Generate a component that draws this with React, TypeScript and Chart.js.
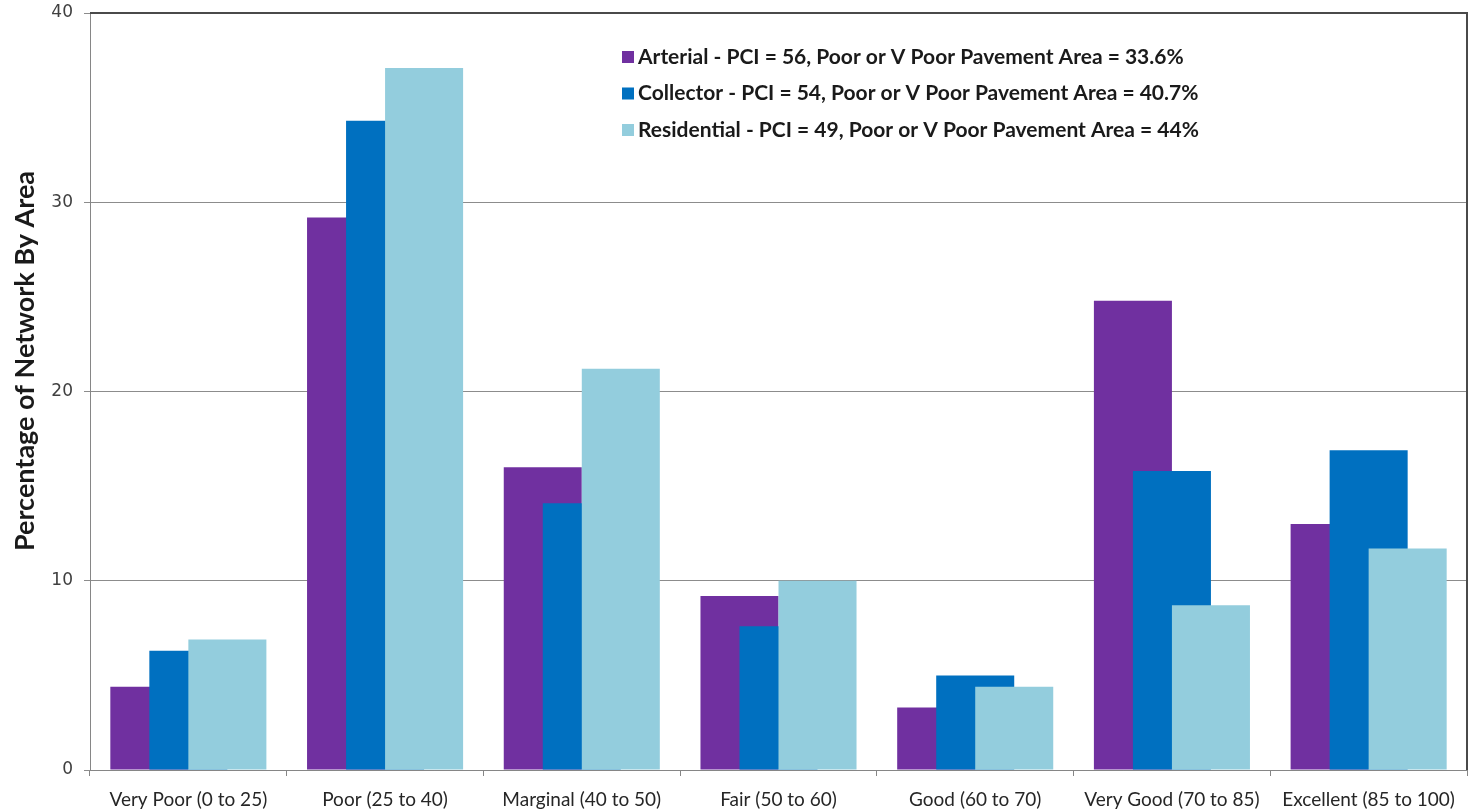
import React, { useEffect, useRef } from "react";
import { Chart, registerables } from "chart.js";

Chart.register(...registerables);

const categories = [
  "Very Poor (0 to 25)",
  "Poor (25 to 40)",
  "Marginal (40 to 50)",
  "Fair (50 to 60)",
  "Good (60 to 70)",
  "Very Good (70 to 85)",
  "Excellent (85 to 100)",
];

const seriesLabels = [
  "Arterial - PCI = 56, Poor or V Poor Pavement Area = 33.6%",
  "Collector - PCI = 54, Poor or V Poor Pavement Area = 40.7%",
  "Residential - PCI = 49, Poor or V Poor Pavement Area = 44%",
];

const arterial = [4.4, 29.2, 16.0, 9.2, 3.3, 24.8, 13.0];
const collector = [6.3, 34.3, 14.1, 7.6, 5.0, 15.8, 16.9];
const residential = [6.9, 37.1, 21.2, 10.0, 4.4, 8.7, 11.7];

const seriesColors = ["#7030A0", "#0070C0", "#93CDDD"];

const yTicks = [0, 10, 20, 30, 40];
const yTitle = "Percentage of Network By Area";

// Draw datasets in index order so later series overlap earlier ones (Excel overlap style)
const drawOrderPlugin = {
  id: "drawOrder",
  beforeDatasetsDraw(chart: any) {
    const ctx = chart.ctx;
    const a = chart.chartArea;
    ctx.save();
    ctx.beginPath();
    ctx.rect(a.left, a.top - 1, a.right - a.left, a.bottom - a.top + 1);
    ctx.clip();
    for (let i = 0; i < chart.data.datasets.length; i++) {
      if (chart.isDatasetVisible(i)) chart.getDatasetMeta(i).controller.draw();
    }
    ctx.restore();
    return false;
  },
};

const borderPlugin = {
  id: "areaBorder",
  afterDraw(chart: any) {
    const ctx = chart.ctx;
    const a = chart.chartArea;
    ctx.save();
    ctx.strokeStyle = "#4a4a4a";
    ctx.lineWidth = 2;
    ctx.beginPath();
    ctx.moveTo(a.left, a.top);
    ctx.lineTo(a.right, a.top);
    ctx.lineTo(a.right, a.bottom);
    ctx.stroke();
    ctx.restore();
  },
};

const yTitlePlugin = {
  id: "yTitle",
  afterDraw(chart: any) {
    const ctx = chart.ctx;
    const a = chart.chartArea;
    ctx.save();
    ctx.translate(34, a.top + 348);
    ctx.rotate(-Math.PI / 2);
    ctx.font = "bold 27px Lato";
    ctx.fillStyle = "#1a1a1a";
    ctx.textAlign = "center";
    ctx.textBaseline = "alphabetic";
    ctx.fillText(yTitle, 0, 0);
    ctx.restore();
  },
};

const insideLegendPlugin = {
  id: "insideLegend",
  afterDraw(chart: any) {
    const ctx = chart.ctx;
    const a = chart.chartArea;
    const x0 = a.left + 532;
    const y0 = a.top + 44;
    const step = 36.5;
    ctx.save();
    ctx.font = "bold 21px Lato";
    ctx.textBaseline = "middle";
    ctx.textAlign = "left";
    chart.data.datasets.forEach((ds: any, i: number) => {
      const y = y0 + i * step;
      ctx.fillStyle = ds.backgroundColor;
      ctx.fillRect(x0, y - 6, 12, 12);
      ctx.fillStyle = "#1a1a1a";
      ctx.fillText(ds.label, x0 + 16, y);
    });
    ctx.restore();
  },
};

export default function App() {
  const canvasRef = useRef<HTMLCanvasElement | null>(null);

  useEffect(() => {
    if (!canvasRef.current) return;
    const chart = new Chart(canvasRef.current, {
      type: "bar",
      data: {
        labels: categories,
        datasets: [arterial, collector, residential].map((d, i) => ({
          label: seriesLabels[i],
          data: d,
          backgroundColor: seriesColors[i],
          borderWidth: 0,
          categoryPercentage: 0.595,
          barPercentage: 2.0,
        })),
      },
      options: {
        animation: false,
        responsive: true,
        maintainAspectRatio: false,
        layout: { padding: { left: 0, right: 3, top: 13, bottom: 0 } },
        plugins: {
          legend: { display: false },
          tooltip: { enabled: false },
        },
        scales: {
          x: {
            offset: true,
            grid: {
              offset: true,
              drawOnChartArea: false,
              drawTicks: true,
              tickLength: 6,
              color: "#868686",
            },
            border: { color: "#868686", width: 1 },
            ticks: {
              color: "#262626",
              font: { family: "Lato", size: 19 },
              padding: 12,
              maxRotation: 0,
              autoSkip: false,
            },
            afterFit: (scale: any) => {
              scale.height = 41;
              scale.paddingLeft = 0;
              scale.paddingRight = 0;
            },
          },
          y: {
            min: 0,
            max: 40,
            afterBuildTicks: (scale: any) => {
              scale.ticks = yTicks.map((v) => ({ value: v }));
            },
            grid: {
              color: "#8c8c8c",
              lineWidth: 1,
              drawTicks: true,
              tickLength: 6,
            },
            border: { color: "#868686", width: 1 },
            ticks: {
              color: "#404040",
              font: { family: "DejaVu Sans", size: 17 },
              padding: 11,
            },
            afterFit: (scale: any) => {
              scale.width = 90;
              scale.paddingTop = 0;
              scale.paddingBottom = 0;
            },
          },
        },
      },
      plugins: [drawOrderPlugin, borderPlugin, yTitlePlugin, insideLegendPlugin],
    });
    return () => chart.destroy();
  }, []);

  return (
    <div style={{ position: "absolute", left: 0, top: 0, width: 1470, height: 811, background: "#fff" }}>
      <canvas ref={canvasRef} />
    </div>
  );
}
